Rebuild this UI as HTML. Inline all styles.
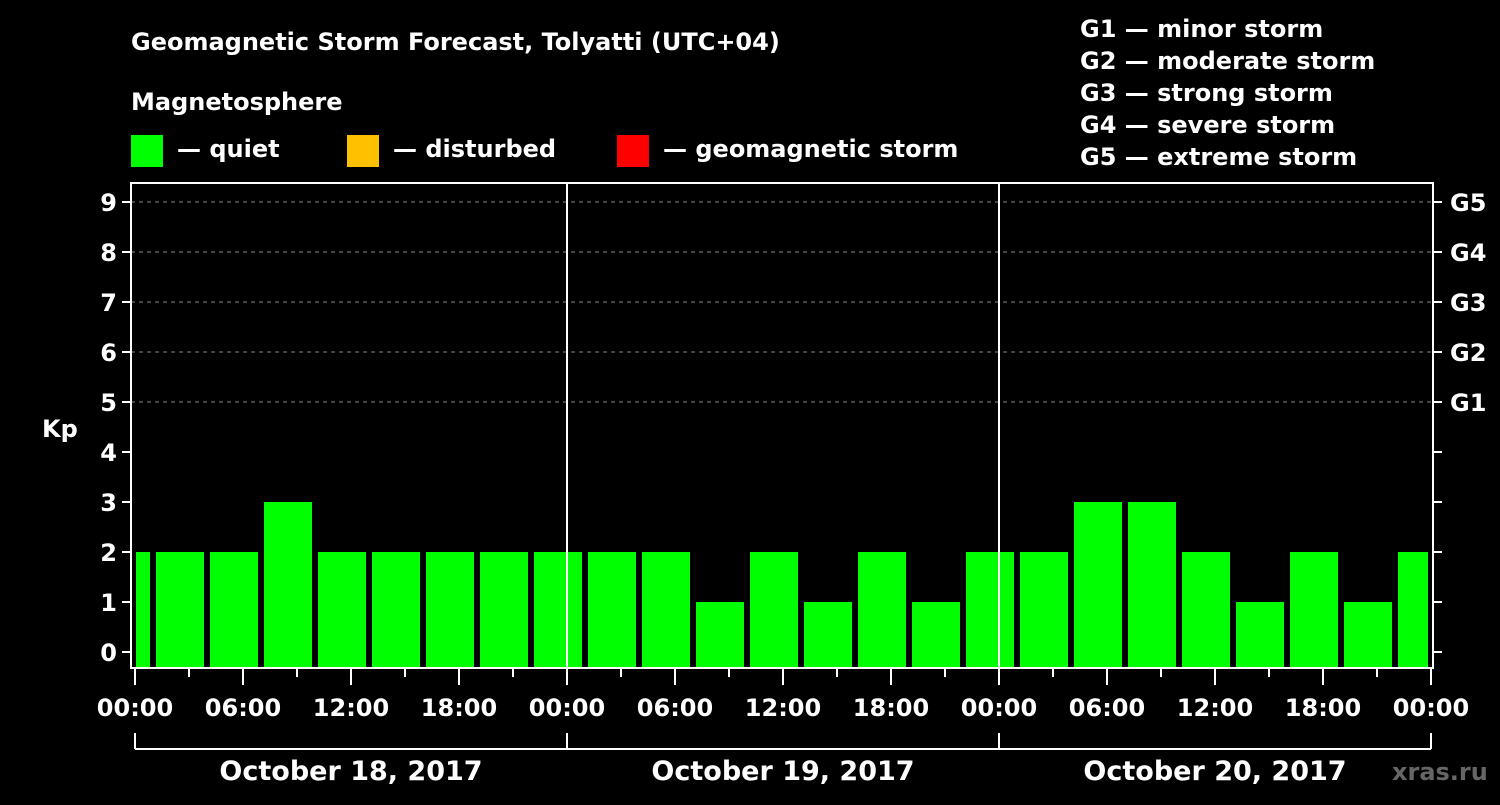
<!DOCTYPE html>
<html><head><meta charset="utf-8"><style>
body{margin:0;background:#000;}
svg text{font-family:"DejaVu Sans","Liberation Sans",sans-serif;font-weight:bold;fill:#fff;}
</style></head><body>
<svg id="chart" width="1500" height="800" xmlns="http://www.w3.org/2000/svg">
<rect width="1500" height="800" fill="#000"/>
<text x="131" y="50" font-size="24">Geomagnetic Storm Forecast, Tolyatti (UTC+04)</text>
<text x="131" y="110" font-size="24">Magnetosphere</text>
<g>
<rect x="131" y="135" width="32" height="32" fill="#00ff00"/>
<text x="177" y="157" font-size="24">— quiet</text>
<rect x="347" y="135" width="32" height="32" fill="#ffc000"/>
<text x="393" y="157" font-size="24">— disturbed</text>
<rect x="617" y="135" width="32" height="32" fill="#ff0000"/>
<text x="663" y="157" font-size="24">— geomagnetic storm</text>
</g>
<g font-size="24">
<text x="1080" y="37">G1 — minor storm</text>
<text x="1080" y="69">G2 — moderate storm</text>
<text x="1080" y="101">G3 — strong storm</text>
<text x="1080" y="133">G4 — severe storm</text>
<text x="1080" y="165">G5 — extreme storm</text>
</g>
<text x="42" y="437" font-size="24">Kp</text>
<text x="1392" y="780" font-size="24" style="fill:#666">xras.ru</text>
<g id="plot"></g>
</svg>
<script>
const kpValues=[2,2,2,3,2,2,2,2,2,2,2,1,2,1,2,1,2,2,3,3,2,1,2,1,2];
const barStartHours=[-2,1,4,7,10,13,16,19,22,25,28,31,34,37,40,43,46,49,52,55,58,61,64,67,70];
const yTicks=[0,1,2,3,4,5,6,7,8,9];
const gLabels=["","","","","","G1","G2","G3","G4","G5"];
const xTickLabels=["00:00","06:00","12:00","18:00","00:00","06:00","12:00","18:00","00:00","06:00","12:00","18:00","00:00"];
const dayLabels=["October 18, 2017","October 19, 2017","October 20, 2017"];
const NS="http://www.w3.org/2000/svg";
const g=document.getElementById('plot');
const L=131,R=1433,T=183,B=668,X0=135,PX_H=18;
const xs=h=>X0+h*PX_H;
const ys=v=>652-v*50;
function mk(t,a){const e=document.createElementNS(NS,t);for(const k in a)e.setAttribute(k,a[k]);g.appendChild(e);return e;}
yTicks.forEach((v,i)=>{
 if(v>=5){const gl=mk('line',{x1:L,x2:R,y1:ys(v),y2:ys(v),stroke:'#888','stroke-dasharray':'4,4','stroke-width':1});
 
 }
 mk('line',{x1:L-9,x2:L,y1:ys(v),y2:ys(v),stroke:'#fff','stroke-width':2});
 mk('line',{x1:R,x2:R+9,y1:ys(v),y2:ys(v),stroke:'#fff','stroke-width':2});
 const t=mk('text',{x:L-14,y:ys(v)+9,'font-size':24,'text-anchor':'end'});t.textContent=v;
 
 
 if(gLabels[i]){const t2=mk('text',{x:1450,y:ys(v)+9,'font-size':24});t2.textContent=gLabels[i];
 
 }
});
kpValues.forEach((v,i)=>{
 const s=Math.max(0,barStartHours[i]),e=Math.min(72,barStartHours[i]+3);
 const x1=xs(s)+(s===0?1:3),x2=xs(e)-3;
 const c=v>=5?'#ff0000':(v>=4?'#ffc000':'#00ff00');
 const r=mk('rect',{x:x1,y:ys(v),width:x2-x1,height:B-ys(v),fill:c});
 
 
});
[1,2].forEach(d=>mk('line',{x1:xs(24*d),x2:xs(24*d),y1:T,y2:B,stroke:'#fff','stroke-width':2}));
const fr=mk('rect',{x:L,y:T,width:R-L,height:B-T,fill:'none',stroke:'#fff','stroke-width':2});


for(let h=0;h<=72;h+=3){mk('line',{x1:xs(h),x2:xs(h),y1:B,y2:h%6===0?B+17:B+9,stroke:'#fff','stroke-width':2});}
xTickLabels.forEach((l,i)=>{const t=mk('text',{x:xs(i*6),y:716,'font-size':24,'text-anchor':'middle'});t.textContent=l;
 
 });
mk('line',{x1:xs(0),x2:xs(72),y1:749,y2:749,stroke:'#fff','stroke-width':2});
for(let d=0;d<=3;d++)mk('line',{x1:xs(24*d),x2:xs(24*d),y1:733,y2:749,stroke:'#fff','stroke-width':2});
dayLabels.forEach((l,i)=>{const t=mk('text',{x:xs(24*i+12),y:780,'font-size':27,'text-anchor':'middle'});t.textContent=l;
 
 });
</script>
</body></html>
